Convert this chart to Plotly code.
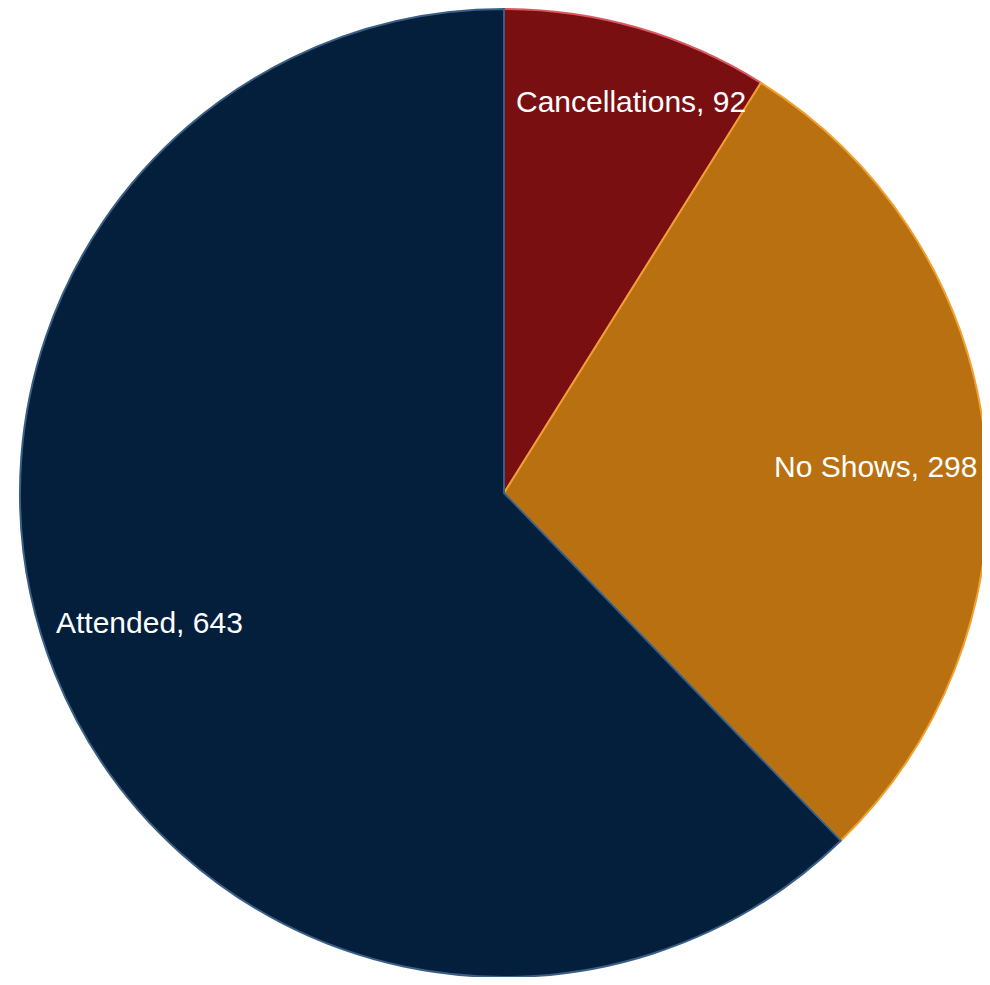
import math
import plotly.graph_objects as go

categories = ["Cancellations", "No Shows", "Attended"]
values = [92, 298, 643]
slice_colors = ["#7A0F12", "#B87010", "#041F3B"]
edge_colors = ["#D85A60", "#F0A030", "#3A5F86"]
label_radius = [0.85, 0.77, 0.78]
label_angle_shift_deg = 2.0

# figure sized so that, with the page's 8px body margin, it fits the 990x985 window
W, H = 982, 969
cx_px, cy_px, R = 496, 485, 484

fig = go.Figure(go.Pie(
    labels=categories,
    values=values,
    sort=False,
    direction="clockwise",
    rotation=0,
    marker=dict(colors=slice_colors, line=dict(color=edge_colors, width=2)),
    textinfo="none",
    hoverinfo="label+value",
    domain=dict(x=[(cx_px - R) / W, (cx_px + R) / W],
                y=[max(0.0, 1 - (cy_px + R) / H), min(1.0, 1 - (cy_px - R) / H)]),
))

total = sum(values)
cum = 0
annotations = []
for cat, v, f in zip(categories, values, label_radius):
    mid = (cum + v / 2) / total * 2 * math.pi + math.radians(label_angle_shift_deg)
    cum += v
    dx = f * R * math.sin(mid)
    dy = f * R * math.cos(mid)
    annotations.append(dict(
        x=cx_px / W + dx / W,
        y=1 - cy_px / H + dy / H,
        xref="paper", yref="paper",
        text=f"{cat}, {v}",
        showarrow=False,
        xanchor="center", yanchor="middle",
        font=dict(family="Liberation Sans, Arial, sans-serif", size=30, color="white"),
    ))

fig.update_layout(
    width=W, height=H,
    margin=dict(l=0, r=0, t=0, b=0),
    showlegend=False,
    paper_bgcolor="white",
    plot_bgcolor="white",
    annotations=annotations,
)

fig.write_html("out.html")
